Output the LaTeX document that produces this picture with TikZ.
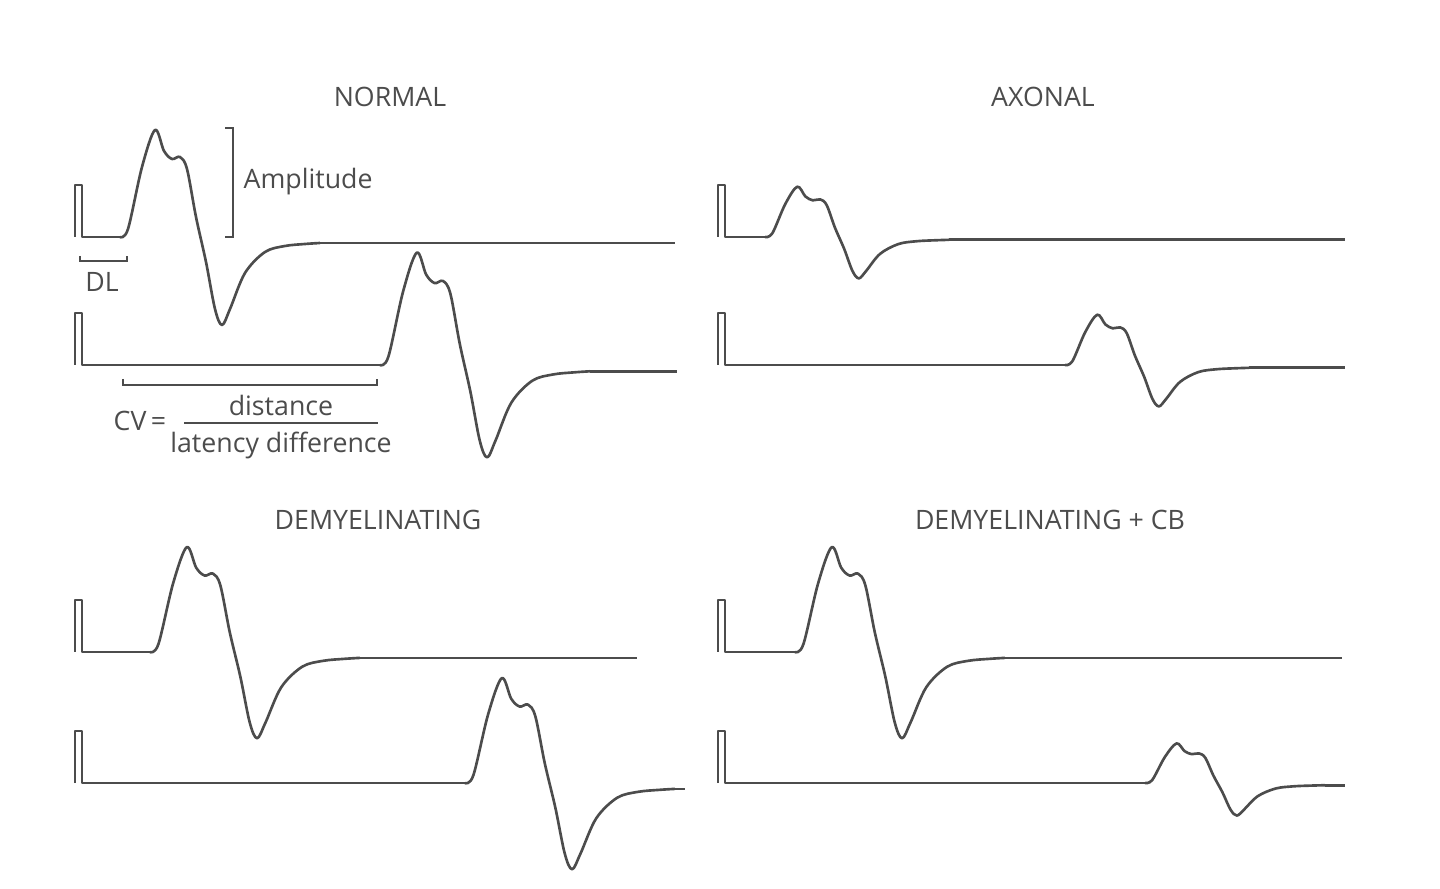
\documentclass[tikz,border=0pt]{standalone}
\usepackage{fontspec}
\setmainfont{Open Sans}
\usetikzlibrary{calc}
\definecolor{ink}{gray}{0.3}
\tikzstyle{sig}=[draw=ink,line width=0.75pt,line join=round]
\tikzstyle{brace}=[draw=ink,line width=0.6pt]
\tikzstyle{title}=[inner sep=0pt,text=ink,font=\fontsize{7.6}{9}\selectfont]
\tikzstyle{label}=[inner sep=0pt,text=ink,font=\fontsize{7.6}{9}\selectfont]
% #1 stim x, #2 baseline y, #3 onset x, #4 x scale, #5 y scale, #6 end x
\newcommand{\trace}[6]{%
  \draw [style=sig] (#1,#2) -- (#1,#2-52) -- (#1+7,#2-52) -- (#1+7,#2) -- (#3,#2);
  \begin{scope}[shift={(#3,#2)},xscale=#4,yscale=#5]
    \draw [style=sig] plot[smooth,tension=0.55] coordinates {(0,0) (8,-8) (22,-70) (35,-107) (44,-86) (52,-78) (60,-80) (67,-68) (76,-20) (86,25) (95,72) (102,88) (110,72) (125,36) (145,15) (165,9) (185,7) (200,6)};
    \coordinate (tail) at (200,6);
  \end{scope}
  \coordinate (tailend) at (#6,0);
  \draw [style=sig] (tail) -- (tail -| tailend);
}
\begin{document}
\begin{tikzpicture}[x=0.01cm,y=-0.01cm]
  \useasboundingbox (0,0) rectangle (1440,889);
  % titles
  \node [style=title] (tN) at (390,97) {NORMAL};
  \node [style=title] (tA) at (1043,97) {AXONAL};
  \node [style=title] (tD) at (378,520) {DEMYELINATING};
  \node [style=title] (tC) at (1050,520) {DEMYELINATING + CB};
  % normal
  \trace{75}{237}{120}{1}{1}{675}
  \trace{75}{365}{380}{1.05}{1.05}{677}
  \draw [style=brace] (225,128) -- (233,128) -- (233,237) -- (225,237);
  \node [style=label,anchor=west] (amp) at (243,182) {Amplitude};
  \draw [style=brace] (80,256) -- (80,261) -- (127,261) -- (127,256);
  \node [style=label] (dl) at (102,282) {DL};
  \draw [style=brace] (123,379) -- (123,385) -- (377,385) -- (377,379);
  \node [style=label] (cvl) at (140,421) {CV\,=};
  \node [style=label] (num) at (281,405) {distance};
  \node [style=label] (den) at (281,445) {latency difference};
  \draw [style=brace] (184,423) -- (378,423);
  % axonal
  \trace{718}{237}{765}{0.92}{0.47}{1345}
  \trace{718}{365}{1065}{0.92}{0.47}{1345}
  % demyelinating
  \trace{75}{652}{150}{1.05}{0.98}{637}
  \trace{75}{783}{465}{1.05}{0.98}{685}
  % demyelinating + CB
  \trace{718}{652}{795}{1.05}{0.98}{1342}
  \trace{718}{783}{1145}{0.9}{0.37}{1345}
\end{tikzpicture}
\end{document}
